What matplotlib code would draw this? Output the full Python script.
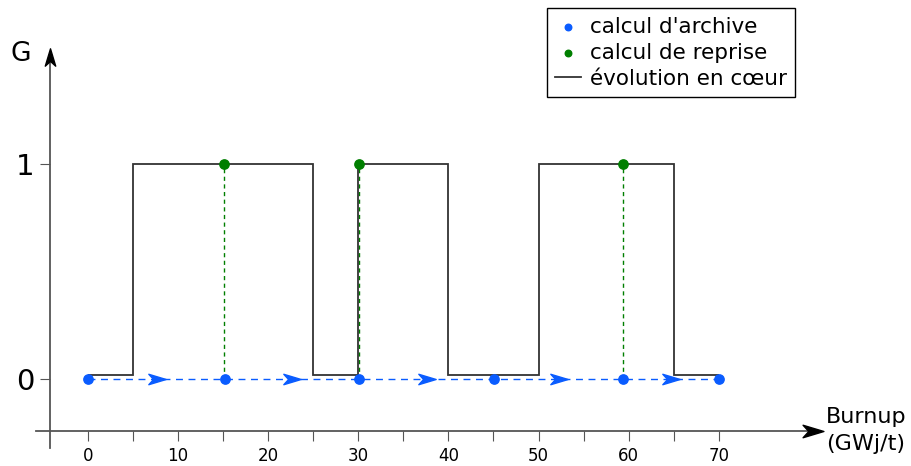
import matplotlib.pyplot as plt
import numpy as np
from matplotlib.path import Path

# burnup values (GWj/t)
archive_x = [0, 15.2, 30.1, 45.1, 59.4, 70]
reprise_x = [15.1, 30.1, 59.4]
# in-core evolution: step edges and levels
step_edges = [0, 5, 25, 30, 40, 50, 65, 70]
step_levels = [0.02, 1, 0.02, 1, 0.02, 1, 0.02]

x_ticks = np.arange(0, 75, 5)
x_ticklabels = [str(t) if t % 10 == 0 else "" for t in x_ticks]

blue = "#0a5cff"
green = "#007f00"

# notched arrow head marker
arrow_head = Path([(-1.0, -0.6), (1.0, 0.0), (-1.0, 0.6), (-0.45, 0.0), (-1.0, -0.6)],
                  [Path.MOVETO, Path.LINETO, Path.LINETO, Path.LINETO, Path.CLOSEPOLY])
arrow_up = Path(arrow_head.vertices[:, ::-1], arrow_head.codes)

fig = plt.figure(figsize=(9.12, 4.66), dpi=100)
ax = fig.add_axes([0, 0, 1, 1])
ax.set_xlim(-9.77, 91.45)
ax.set_ylim(-0.405, 1.763)

# dashed archive chain
ax.plot([archive_x[0], archive_x[-1]], [0, 0], color=blue, lw=1, dashes=(5, 4), zorder=2)
mids = [(a + b) / 2 for a, b in zip(archive_x[:-1], archive_x[1:])]
ax.plot(mids, np.zeros(len(mids)), ls="none", marker=arrow_head, ms=12.5,
        color=blue, mec=blue, zorder=3)

# reprise verticals
for xr in reprise_x:
    ax.plot([xr, xr], [0, 1], color=green, lw=1, dashes=(3, 2.5), zorder=2)

ax.stairs(step_levels, step_edges, baseline=None, color="#333333", lw=1.3, zorder=2,
          label="évolution en cœur")

ax.scatter(archive_x, np.zeros(len(archive_x)), s=45, color=blue, zorder=4,
           label="calcul d'archive")
ax.scatter(reprise_x, np.ones(len(reprise_x)), s=45, color=green, zorder=4,
           label="calcul de reprise")

# axes with arrows
for s in ["top", "right"]:
    ax.spines[s].set_visible(False)
ax.spines["left"].set_position(("data", -4.2))
ax.spines["bottom"].set_position(("data", -0.24))
ax.spines["left"].set_bounds(-0.32, 1.5)
ax.spines["bottom"].set_bounds(-5.8, 80.5)
for s in ["left", "bottom"]:
    ax.spines[s].set_color("#555555")
    ax.spines[s].set_linewidth(1.3)
ax.plot([80.5], [-0.24], ls="none", marker=arrow_head, ms=15, color="black",
        clip_on=False, zorder=5)
ax.plot([-4.2], [1.5], ls="none", marker=arrow_up, ms=12.5, color="black",
        clip_on=False, zorder=5)

ax.set_xticks(x_ticks)
ax.set_xticklabels(x_ticklabels, fontsize=12)
ax.set_yticks([0, 1])
ax.set_yticklabels(["0", "1"], fontsize=21)
ax.tick_params(axis="x", direction="out", length=7, color="#555555", pad=5)
ax.tick_params(axis="y", direction="out", length=7, color="#555555", pad=4)

ax.text(-8.6, 1.479, "G", fontsize=19, ha="left", va="baseline")
ax.text(81.9, -0.24, "Burnup\n(GWj/t)", fontsize=16, ha="left", va="center",
        linespacing=1.4)

handles, labels = ax.get_legend_handles_labels()
order = [1, 2, 0]
leg = ax.legend([handles[i] for i in order], [labels[i] for i in order],
                loc="upper right", bbox_to_anchor=(0.872, 0.983), fontsize=15.5,
                frameon=True, fancybox=False, framealpha=1, edgecolor="black",
                handlelength=1.2, handletextpad=0.4, labelspacing=0.28,
                borderpad=0.4, markerscale=0.7, borderaxespad=0)
leg.get_frame().set_linewidth(1.0)

plt.savefig("out.png", dpi=100)
